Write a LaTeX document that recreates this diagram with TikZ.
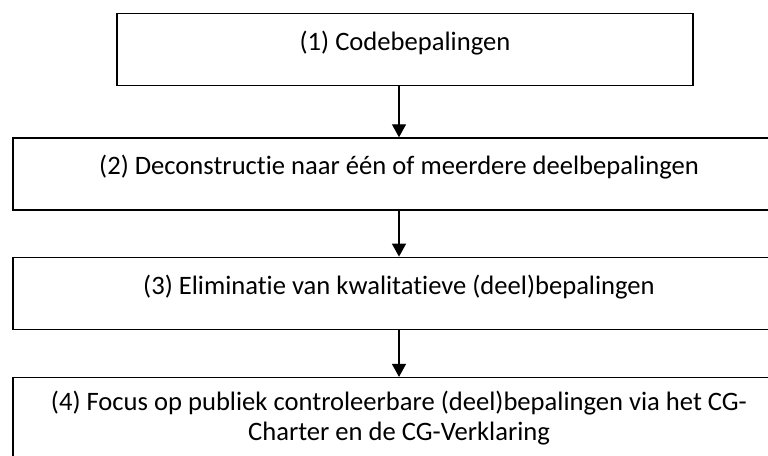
\documentclass[tikz,border=0pt]{standalone}
\usepackage{fontspec}
\setmainfont{Carlito}[Ligatures=NoCommon]
\usetikzlibrary{positioning,arrows.meta}

\tikzset{
  stap/.style={draw, line width=1.3pt, align=flush center, inner xsep=5pt, inner ysep=0pt,
    text height=37pt, text depth=35pt, font=\fontsize{26.6}{30}\selectfont},
  pijl/.style={line width=1.3pt, -{Triangle[length=13pt,width=14pt]}}
}

\begin{document}
\begin{tikzpicture}[x=1pt,y=1pt]
\clip (0,0) rectangle (768,-455);
\fill[white] (0,0) rectangle (768,-455);

% Steps
\node[stap, text width=566pt, anchor=north] (stap1) at (405,-13) {(1) Codebepalingen};
\node[stap, text width=762pt, below=51pt of stap1, xshift=-6pt] (stap2)
  {(2) Deconstructie naar één of meerdere deelbepalingen};
\node[stap, text width=762pt, below=46pt of stap2] (stap3)
  {(3) Eliminatie van kwalitatieve (deel)bepalingen};
\node[stap, text width=762pt, text height=33pt, text depth=80pt, below=47pt of stap3] (stap4)
  {(4) Focus op publiek controleerbare (deel)bepalingen via het CG-\\Charter en de CG-Verklaring};

% Arrows
\draw[pijl] (stap1.south -| stap2.north) -- (stap2.north);
\draw[pijl] (stap2) -- (stap3);
\draw[pijl] (stap3) -- (stap4);
\end{tikzpicture}
\end{document}
